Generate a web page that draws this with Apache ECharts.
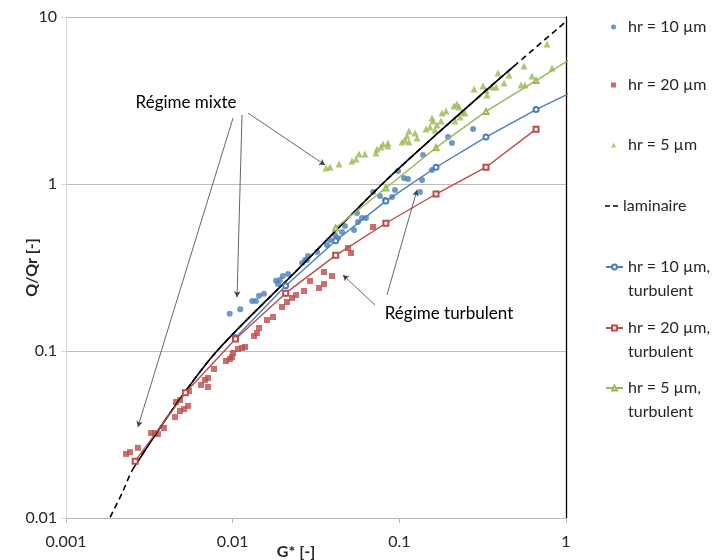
<!DOCTYPE html>
<html>
<head>
<meta charset="utf-8">
<script src="https://cdn.jsdelivr.net/npm/echarts@6/dist/echarts.min.js"></script>
<style>
  html, body { margin: 0; padding: 0; background: #fff; }
  #chart { width: 719px; height: 560px; }
</style>
</head>
<body>
<div id="chart"></div>
<script>
const h10X = [0.0096, 0.0111, 0.0131, 0.0138, 0.0144, 0.0154, 0.0182, 0.0187, 0.0192, 0.0200, 0.0215,
  0.0261, 0.0272, 0.0279, 0.0283, 0.0321, 0.0368, 0.0384, 0.0411, 0.0429, 0.0453, 0.0472,
  0.0535, 0.0557, 0.0565, 0.0597, 0.0631, 0.0695, 0.0766, 0.0820, 0.0904, 0.0942,
  0.0982, 0.1067, 0.1127, 0.1330, 0.1368, 0.1387, 0.157, 0.196, 0.207, 0.277]
const h10Y = [0.167, 0.178, 0.199, 0.199, 0.214, 0.220, 0.263, 0.252, 0.266, 0.281, 0.289,
  0.336, 0.351, 0.351, 0.371, 0.392, 0.431, 0.462, 0.495, 0.475, 0.516, 0.561,
  0.530, 0.670, 0.592, 0.626, 0.626, 0.896, 0.847, 0.802, 0.836, 0.921,
  1.196, 1.086, 1.071, 0.896, 1.057, 1.492, 1.213, 1.912, 1.760, 2.135]

const h20X = [0.00229, 0.00242, 0.0027, 0.00324, 0.00342, 0.00356, 0.00387, 0.00451, 0.00457, 0.00483,
  0.00483, 0.00511, 0.0054, 0.00547, 0.00646, 0.00682, 0.00711, 0.00711, 0.00773, 0.00912,
  0.00964, 0.00991, 0.01005, 0.01076, 0.01138, 0.01186, 0.01343, 0.014, 0.01439, 0.01607,
  0.01746, 0.01977, 0.02118, 0.0227, 0.02399, 0.02679, 0.02911, 0.03296, 0.03532, 0.03532,
  0.03945, 0.0492, 0.05129, 0.0695]
const h20Y = [0.0242, 0.0248, 0.0263, 0.0323, 0.0323, 0.0318, 0.0346, 0.0402, 0.0495, 0.0509,
  0.0437, 0.0450, 0.0469, 0.0576, 0.0626, 0.0671, 0.0689, 0.0609, 0.078, 0.0871,
  0.0896, 0.0921, 0.0973, 0.1028, 0.1042, 0.1057, 0.123, 0.1282, 0.1373, 0.1533,
  0.1598, 0.1834, 0.1965, 0.2077, 0.2165, 0.2287, 0.2626, 0.2383, 0.252, 0.2972,
  0.2813, 0.4138, 0.3862, 0.5528]

const h5X = [0.0363, 0.0384, 0.0435, 0.052, 0.055, 0.0573, 0.0622, 0.0724, 0.0735, 0.0776,
  0.0798, 0.0855, 0.0855, 0.1038, 0.1081, 0.1112, 0.1143, 0.1143, 0.1242, 0.1276,
  0.1445, 0.1528, 0.157, 0.1592, 0.1637, 0.1683, 0.1778, 0.1803, 0.1905, 0.2128,
  0.2158, 0.2218, 0.228, 0.2312, 0.2377, 0.2477, 0.2805, 0.3177, 0.3311, 0.3357,
  0.3597, 0.3802, 0.3908, 0.4246, 0.455, 0.537, 0.5598, 0.5675, 0.6252, 0.7691, 0.8241]
const h5Y = [1.247, 1.264, 1.318, 1.373, 1.411, 1.512, 1.512, 1.533, 1.620, 1.666,
  1.736, 1.760, 1.688, 1.784, 1.834, 1.939, 2.077, 1.784, 2.021, 1.886,
  2.135, 2.194, 2.485, 2.384, 2.106, 2.256, 2.384, 2.661, 2.736, 2.932,
  2.384, 3.013, 2.892, 2.519, 2.698, 2.661, 3.707, 3.863, 3.656, 3.411,
  3.809, 3.809, 4.62, 4.025, 4.494, 3.915, 5.089, 3.915, 4.433, 6.891, 4.95]

// laminar curve, the middle part (index 2..8) is drawn solid
const lamX = [0.00184, 0.00217, 0.00254, 0.00451, 0.00805, 0.0254, 0.084, 0.334, 0.49, 1.0]
const lamY = [0.0101, 0.0141, 0.0199, 0.0469, 0.1, 0.318, 1.06, 3.66, 5.1, 9.4]

// turbulent model curves
const turb10X = [0.0104, 0.0208, 0.0415, 0.083, 0.166, 0.331, 0.661, 1.32]
const turb10Y = [0.12, 0.246, 0.457, 0.79, 1.26, 1.91, 2.79, 3.9]
const turb20X = [0.0026, 0.0052, 0.0104, 0.0208, 0.0415, 0.083, 0.166, 0.331, 0.661]
const turb20Y = [0.0219, 0.0562, 0.118, 0.222, 0.374, 0.582, 0.871, 1.26, 2.13]
const turb5X = [0.0415, 0.083, 0.166, 0.331, 0.661, 1.32]
const turb5Y = [0.546, 0.946, 1.65, 2.72, 4.16, 6.4]

const xTicks = [0.001, 0.01, 0.1, 1]
const yTicks = [0.01, 0.1, 1, 10]

const zip = (xs, ys) => xs.map((x, i) => [x, ys[i]])

const FONT = 'Lato'
const BLUE = '#4a7ebb'
const RED = '#be4b48'
const GREEN = '#98b954'
const TXT = '#262626'

// arrows of the two notes, in data coordinates
const arrowsMixte = [
  [[0.01005, 2.48], [0.0027, 0.0351]],
  [[0.01138, 2.59], [0.01062, 0.210]],
  [[0.01236, 2.66], [0.0358, 1.30]]
]
const arrowsTurb = [
  [[0.0714, 0.1885], [0.0459, 0.285]],
  [[0.0843, 0.2165], [0.1276, 0.920]]
]

const names = ['hr = 10 µm', 'hr = 20 µm', 'hr = 5 µm', 'laminaire',
  'hr = 10 µm,\nturbulent', 'hr = 20 µm,\nturbulent', 'hr = 5 µm,\nturbulent']

function legendItem (name, top, kind, icon) {
  const base = {
    orient: 'vertical',
    padding: 0,
    selectedMode: false,
    data: [name],
    textStyle: { fontFamily: FONT, fontSize: 16, color: TXT, lineHeight: 20 }
  }
  if (kind === 'dot') {
    // small marker, text pushed right like the Excel legend
    return Object.assign(base, {
      left: 611, top: top - 10, itemWidth: 5, itemHeight: 5, icon: icon,
      textStyle: { fontFamily: FONT, fontSize: 16, color: TXT, lineHeight: 20, padding: [0, 0, 0, 7] }
    })
  }
  if (kind === 'dash') {
    return Object.assign(base, {
      left: 605, top: top - 10, itemWidth: 13, itemHeight: 1.6,
      icon: 'path://M0 0h5v1.6h-5z M8 0h5v1.6h-5z',
      itemStyle: { color: '#000' }
    })
  }
  // two-line names : an empty first line keeps the icon level with "hr = ..."
  return Object.assign(base, {
    left: 605, top: top - 36, itemWidth: 17, itemHeight: 6,
    formatter: n => '\n' + n,
    textStyle: { fontFamily: FONT, fontSize: 16, color: TXT, lineHeight: 24 }
  })
}

function arrowLines (pairs) {
  return {
    silent: true,
    animation: false,
    symbol: ['none', 'arrow'],
    symbolSize: [5, 6],
    label: { show: false },
    lineStyle: { color: '#404040', width: 0.8, type: 'solid' },
    emphasis: { disabled: true },
    data: pairs.map(p => [{ coord: p[0] }, { coord: p[1] }])
  }
}

const chart = echarts.init(document.getElementById('chart'))
chart.setOption({
  animation: false,
  textStyle: { fontFamily: FONT },
  grid: { left: 66, right: 153, top: 17, bottom: 42, outerBoundsMode: 'none', containLabel: false },
  legend: [
    legendItem(names[0], 27, 'dot', 'circle'),
    legendItem(names[1], 85, 'dot', 'rect'),
    legendItem(names[2], 145, 'dot', 'triangle'),
    legendItem(names[3], 206, 'dash'),
    legendItem(names[4], 267, 'line'),
    legendItem(names[5], 328, 'line'),
    legendItem(names[6], 388, 'line')
  ],
  xAxis: {
    type: 'log',
    logBase: 10,
    min: xTicks[0],
    max: xTicks[xTicks.length - 1],
    name: 'G* [-]',
    nameLocation: 'middle',
    nameGap: 26,
    nameMoveOverlap: false,
    nameTextStyle: { fontFamily: FONT, fontSize: 16, fontWeight: 'bold', color: TXT, padding: [0, 40, 0, 0] },
    axisLine: { lineStyle: { color: '#b8b8b8' } },
    axisTick: { show: true, length: 5, lineStyle: { color: '#b8b8b8' } },
    axisLabel: {
      fontFamily: FONT, fontSize: 16, color: TXT, margin: 16,
      formatter: v => String(+(+v).toPrecision(3))
    },
    splitLine: { show: false }
  },
  yAxis: [{
    type: 'log',
    logBase: 10,
    min: yTicks[0],
    max: yTicks[yTicks.length - 1],
    name: 'Q/Qr [-]',
    nameLocation: 'middle',
    nameGap: 26,
    nameMoveOverlap: false,
    nameRotate: 90,
    nameTextStyle: { fontFamily: FONT, fontSize: 16, fontWeight: 'bold', color: TXT },
    axisLine: { show: true, lineStyle: { color: '#d9d9d9' } },
    axisTick: { show: true, length: 5, lineStyle: { color: '#d9d9d9' } },
    axisLabel: {
      fontFamily: FONT, fontSize: 16, color: TXT, margin: 9,
      formatter: v => String(+(+v).toPrecision(3))
    },
    splitLine: { show: true, lineStyle: { color: '#bcbcbc' } }
  }, {
    type: 'log',
    logBase: 10,
    min: yTicks[0],
    max: yTicks[yTicks.length - 1],
    position: 'right',
    axisLine: { show: true, lineStyle: { color: '#000', width: 1.3 } },
    axisTick: { show: false },
    axisLabel: { show: false },
    splitLine: { show: false }
  }],
  graphic: [
    { type: 'text', style: { text: 'Régime mixte', fontFamily: FONT, fontSize: 17, fill: '#000', align: 'center', verticalAlign: 'middle', x: 186, y: 103 } },
    { type: 'text', style: { text: 'Régime turbulent', fontFamily: FONT, fontSize: 17, fill: '#000', align: 'center', verticalAlign: 'middle', x: 449, y: 314 } }
  ],
  series: [
    {
      name: names[0], type: 'scatter', symbol: 'circle', symbolSize: 6,
      itemStyle: { color: BLUE }, data: zip(h10X, h10Y)
    },
    {
      name: names[1], type: 'scatter', symbol: 'rect', symbolSize: 6,
      itemStyle: { color: RED }, data: zip(h20X, h20Y)
    },
    {
      name: names[2], type: 'scatter', symbol: 'triangle', symbolSize: 7,
      itemStyle: { color: GREEN }, data: zip(h5X, h5Y)
    },
    {
      name: names[3], type: 'line', showSymbol: false, symbol: 'none', smooth: 0.3,
      lineStyle: { color: '#000', width: 1.6, type: [6, 4] },
      itemStyle: { color: '#000' },
      data: zip(lamX, lamY),
      markLine: arrowLines(arrowsMixte)
    },
    {
      name: 'laminaire (solide)', type: 'line', showSymbol: false, symbol: 'none', silent: true, smooth: 0.3,
      lineStyle: { color: '#000', width: 1.6 },
      data: zip(lamX.slice(2, 9), lamY.slice(2, 9)),
      markLine: arrowLines(arrowsTurb)
    },
    {
      name: names[4], type: 'line', symbol: 'emptyCircle', symbolSize: 5, clip: true,
      lineStyle: { color: BLUE, width: 1.4 }, itemStyle: { color: BLUE, borderWidth: 1 },
      data: zip(turb10X, turb10Y)
    },
    {
      name: names[5], type: 'line', symbol: 'emptyRect', symbolSize: 5, clip: true,
      lineStyle: { color: RED, width: 1.4 }, itemStyle: { color: RED, borderWidth: 1 },
      data: zip(turb20X, turb20Y)
    },
    {
      name: names[6], type: 'line', symbol: 'emptyTriangle', symbolSize: 5, clip: true,
      lineStyle: { color: GREEN, width: 1.4 }, itemStyle: { color: GREEN, borderWidth: 1 },
      data: zip(turb5X, turb5Y)
    }
  ]
})
</script>
</body>
</html>
